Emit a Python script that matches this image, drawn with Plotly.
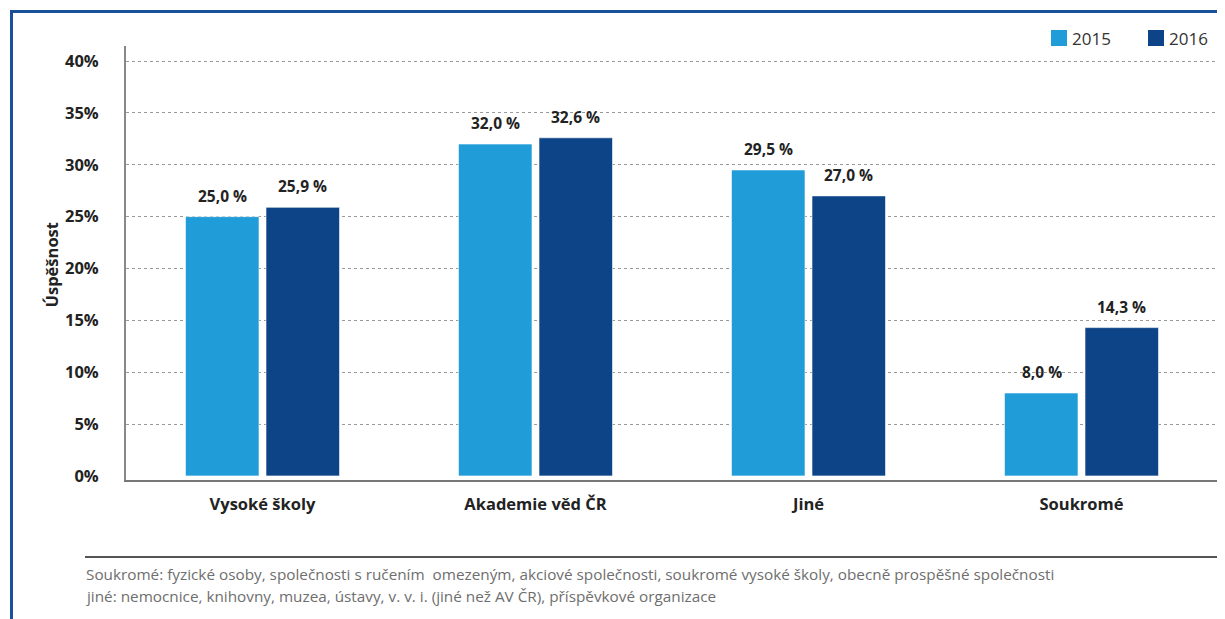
import plotly.graph_objects as go

categories = ["Vysoké školy", "Akademie věd ČR", "Jiné", "Soukromé"]
series_names = ["2015", "2016"]
values_2015 = [25.0, 32.0, 29.5, 8.0]
values_2016 = [25.9, 32.6, 27.0, 14.3]
colors = ["#209cd8", "#0d4387"]
y_ticks = [0, 5, 10, 15, 20, 25, 30, 35, 40]
y_tick_labels = [f"{t}%" for t in y_ticks]
footnote_lines = [
    "Soukromé: fyzické osoby, společnosti s ručením  omezeným, akciové společnosti, soukromé vysoké školy, obecně prospěšné společnosti",
    "jiné: nemocnice, knihovny, muzea, ústavy, v. v. i. (jiné než AV ČR), příspěvkové organizace",
]

OFF = 8  # page body margin
W, H = 1217, 611
L, R, T, B = 118, 7, 38, 139
PW, PH = W - L - R, H - T - B


def px_x(page_px):
    return (page_px - OFF - L) / PW


def px_y(page_py):
    return (H - B - (page_py - OFF)) / PH


def fmt(v):
    return f"{v:.1f}".replace(".", ",") + " %"


FONT = "Open Sans"
fig = go.Figure()

all_series = [values_2015, values_2016]
for name, vals, col in zip(series_names, all_series, colors):
    fig.add_trace(go.Bar(
        x=categories, y=vals, name=name, marker_color=col,
        marker_line=dict(color="rgba(255,255,255,0.6)", width=1),
        showlegend=False, hoverinfo="x+y",
    ))

# value labels
offsets = [-40, 40]
for vals, off in zip(all_series, offsets):
    for c, v in zip(categories, vals):
        fig.add_annotation(
            x=c, y=v, xref="x", yref="y", text=fmt(v), showarrow=False,
            xshift=off, yshift=21, yanchor="middle",
            font=dict(family=FONT, size=15.5, color="#222222", weight="bold"),
        )

# y title
fig.add_annotation(
    x=px_x(37), y=px_y(265), xref="paper", yref="paper", text="Úspěšnost",
    textangle=-90, showarrow=False,
    font=dict(family=FONT, size=16.5, color="#222222", weight="bold"),
)

# footnote (one annotation per line)
for line, ly in zip(footnote_lines, [574, 596]):
    fig.add_annotation(
        x=px_x(84), y=px_y(ly), xref="paper", yref="paper",
        text=line, showarrow=False, align="left",
        xanchor="left", yanchor="middle",
        font=dict(family=FONT, size=15.3, color="#6e6e6e"),
    )

shapes = [
    # footnote separator
    dict(type="line", xref="paper", yref="paper", x0=px_x(85), x1=px_x(1217),
         y0=px_y(557), y1=px_y(557), line=dict(color="#555555", width=2)),
    # frame top
    dict(type="line", xref="paper", yref="paper", x0=px_x(10), x1=px_x(1226),
         y0=px_y(11.5), y1=px_y(11.5), line=dict(color="#1a4f99", width=3)),
    # frame left
    dict(type="line", xref="paper", yref="paper", x0=px_x(11.5), x1=px_x(11.5),
         y0=px_y(10), y1=px_y(620), line=dict(color="#1a4f99", width=3)),
]

# manual legend (swatch + label)
legend_left = [1051, 1148]
for name, col, lx in zip(series_names, colors, legend_left):
    shapes.append(dict(type="rect", xref="paper", yref="paper",
                       x0=px_x(lx), x1=px_x(lx + 16), y0=px_y(46), y1=px_y(30),
                       fillcolor=col, line=dict(width=0)))
    fig.add_annotation(
        x=px_x(lx + 19), y=px_y(38), xref="paper", yref="paper", text=name,
        showarrow=False, xanchor="left", yanchor="middle",
        font=dict(family=FONT, size=17, color="#333333"),
    )

fig.update_layout(
    width=W, height=H,
    margin=dict(l=L, r=R, t=T, b=B, autoexpand=False),
    paper_bgcolor="white", plot_bgcolor="white",
    barmode="group", bargap=0.41, bargroupgap=0.087,
    font=dict(family=FONT, color="#222222"),
    shapes=shapes,
    showlegend=False,
    xaxis=dict(
        showline=True, linecolor="#777777", linewidth=2, ticks="",
        tickfont=dict(family=FONT, size=16.5, color="#222222", weight="bold"),
        ticklabelstandoff=8, fixedrange=True,
    ),
    yaxis=dict(
        range=[-0.39, 41.45], tickvals=y_ticks, ticktext=y_tick_labels,
        showline=True, linecolor="#888888", linewidth=2,
        showgrid=True, gridcolor="#9a9a9a", griddash="dot", gridwidth=1,
        zeroline=True, zerolinecolor="rgba(0,0,0,0)", zerolinewidth=1,
        ticks="", ticklabelstandoff=22,
        tickfont=dict(family=FONT, size=16.5, color="#222222", weight="bold"),
    ),
)

fig.write_html("out.html")
